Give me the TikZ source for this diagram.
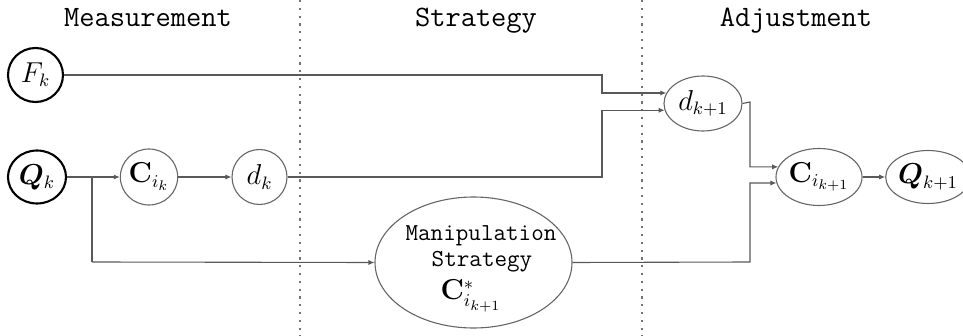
\documentclass[tikz,border=0pt]{standalone}
\usepackage{amsmath}
\usepackage{bm}
\usetikzlibrary{shapes.geometric,arrows.meta}
\tikzset{
  conn/.style={draw=black!65, line width=0.55pt},
  arr/.style={conn, -{Latex[length=3pt,width=2.6pt]}},
  thinnode/.style={ellipse, draw=black!60, line width=0.55pt, inner sep=0pt, font=\fontsize{13.5}{15}\selectfont},
  thicknode/.style={ellipse, draw=black, line width=1.05pt, inner sep=0pt, font=\fontsize{13.5}{15}\selectfont},
  divider/.style={draw=black!55, line width=0.6pt, dash pattern=on 1.1pt off 2.8pt},
  title/.style={anchor=base, font=\ttfamily\fontsize{14.8}{16}\selectfont},
  mtext/.style={anchor=base, inner sep=0pt, font=\ttfamily\fontsize{12.2}{14}\selectfont}
}
\begin{document}
\begin{tikzpicture}[x=0.5pt, y=-0.5pt]
\useasboundingbox (0,0) rectangle (963,336);
% dividers
\coordinate (v1t) at (300,0); \coordinate (v1b) at (300,336);
\coordinate (v2t) at (642,0); \coordinate (v2b) at (642,336);
\draw[divider] (v1t) -- (v1b);
\draw[divider] (v2t) -- (v2b);
% titles
\node[title] (t1) at (148,27) {Measurement};
\node[title] (t2) at (476,27) {Strategy};
\node[title] (t3) at (796,27) {Adjustment};
% nodes
\node[thicknode, minimum width=27.5pt, minimum height=27pt] (Fk) at (35.5,75) {$F_k$};
\node[thicknode, minimum width=29pt, minimum height=26.5pt] (Qk) at (37,177) {$\bm{Q}_k$};
\node[thinnode, minimum width=28pt, minimum height=28pt] (Cik) at (149,177) {$\mathbf{C}_{i_k}$};
\node[thinnode, minimum width=27.5pt, minimum height=27.5pt] (dk) at (259.5,177) {$d_k$};
\node[thinnode, minimum width=39pt, minimum height=27.5pt] (dk1) at (703,103.5) {$d_{k+1}$};
\node[thinnode, minimum width=39pt, minimum height=28.5pt] (Ck1) at (819,177) {$\mathbf{C}_{i_{k+1}}$};
\node[thinnode, minimum width=34pt, minimum height=26.5pt] (Qk1) at (928,177) {$\bm{Q}_{k+1}$};
\node[thinnode, minimum width=98.5pt, minimum height=65.5pt] (M) at (473.5,262.5) {};
\node[mtext] (m1) at (481,241) {Manipulation};
\node[mtext] (m2) at (482,266) {Strategy};
\node[anchor=center, inner sep=0pt, font=\fontsize{13.5}{15}\selectfont] (m3) at (471,296) {$\mathbf{C}^{*}_{i_{k+1}}$};
% junctions
\coordinate (j1) at (602,75);
\coordinate (j2) at (602,177);
\coordinate (j3) at (92,177);
\coordinate (j4) at (92,262);
\coordinate (j5) at (750,102);
\coordinate (j6) at (750,262);
% connectors
\draw[arr] (Fk.east) -- (j1) |- (dk1.164);
\draw[arr] (dk.east) -- (j2) |- (dk1.190);
\draw[arr] (Qk.east) -- (Cik.west);
\draw[conn] (j3) -- (j4);
\draw[arr] (j4) -- (M.west);
\draw[arr] (Cik.east) -- (dk.west);
\draw[arr] (dk1.east) -- (j5) |- (Ck1.166);
\draw[arr] (M.east) -- (j6) |- (Ck1.188);
\draw[arr] (Ck1.east) -- (Qk1.west);
\end{tikzpicture}
\end{document}
